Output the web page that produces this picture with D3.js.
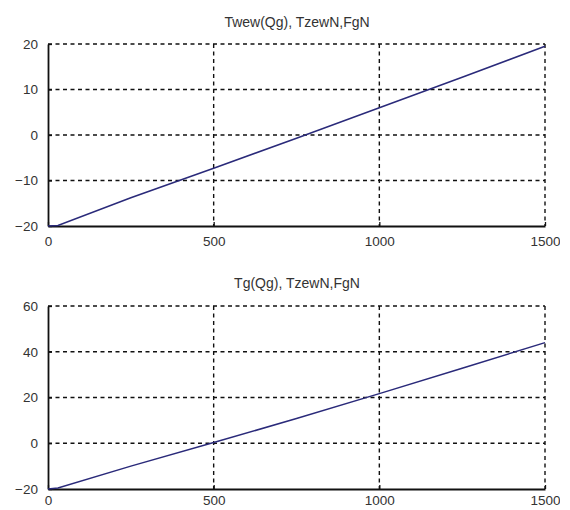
<!DOCTYPE html>
<html><head><meta charset="utf-8">
<script src="https://cdn.jsdelivr.net/npm/d3@7"></script>
<style>body{margin:0;background:#fff;} text{font-family:"Liberation Sans",Arial,sans-serif;}</style>
</head><body>
<script>
const qg = [0, 30, 250, 500, 750, 1000, 1250, 1500];
const twew = [-20, -19.9, -13.8, -7.3, -0.7, 6.0, 12.7, 19.5];
const tg = [-20, -19.6, -10.0, 0.3, 10.8, 21.7, 32.8, 44.0];
const xTicks = [0, 500, 1000, 1500];
const yTicksTop = [-20, -10, 0, 10, 20];
const yTicksBot = [-20, 0, 20, 40, 60];
const titles = ["Twew(Qg), TzewN,FgN", "Tg(Qg), TzewN,FgN"];

const svg = d3.select("body").append("svg").attr("width", 560).attr("height", 510);

function panel(top, bottom, ydom, yticks, vals, title, titleY, xPad) {
  const x = d3.scaleLinear().domain([0, 1500]).range([48, 545]);
  const y = d3.scaleLinear().domain(ydom).range([bottom, top]);
  const g = svg.append("g");
  g.selectAll(".gx").data(xTicks.slice(1)).join("line")
    .attr("x1", d => x(d)).attr("x2", d => x(d)).attr("y1", top).attr("y2", bottom)
    .attr("stroke", "#111").attr("stroke-width", 1.4).attr("stroke-dasharray", "4,3.5");
  g.selectAll(".gy").data(yticks.slice(1)).join("line")
    .attr("x1", x(0)).attr("x2", x(1500)).attr("y1", d => y(d)).attr("y2", d => y(d))
    .attr("stroke", "#111").attr("stroke-width", 1.4).attr("stroke-dasharray", "4,3.5");
  const ax = g.append("g").attr("transform", `translate(0,${bottom})`)
    .call(d3.axisBottom(x).tickValues(xTicks).tickFormat(d3.format("d")).tickSizeInner(-4).tickSizeOuter(0).tickPadding(xPad));
  const ay = g.append("g").attr("transform", `translate(${x(0)},0)`)
    .call(d3.axisLeft(y).tickValues(yticks).tickFormat(d3.format("d")).tickSizeInner(-4).tickSizeOuter(0).tickPadding(10));
  [ax, ay].forEach(a => {
    a.select(".domain").attr("stroke", "#111").attr("stroke-width", 1.8);
    a.selectAll(".tick line").attr("stroke", "#111").attr("stroke-width", 1.3);
    a.selectAll("text").attr("font-size", 13.5).attr("fill", "#333")
      .style("font-family", "'Liberation Sans',Arial,sans-serif");
  });
  g.append("path").datum(qg.map((q, i) => [q, vals[i]]))
    .attr("fill", "none").attr("stroke", "#2a2a7a").attr("stroke-width", 1.5)
    .attr("d", d3.line().x(d => x(d[0])).y(d => y(d[1])));
  g.append("text").attr("x", 297).attr("y", titleY).attr("text-anchor", "middle")
    .attr("font-size", 14).attr("fill", "#333").text(title);
}
panel(44, 226, [-20, 20], yTicksTop, twew, titles[0], 27, 10);
panel(306, 489, [-20, 60], yTicksBot, tg, titles[1], 288, 6);
</script>
</body></html>
